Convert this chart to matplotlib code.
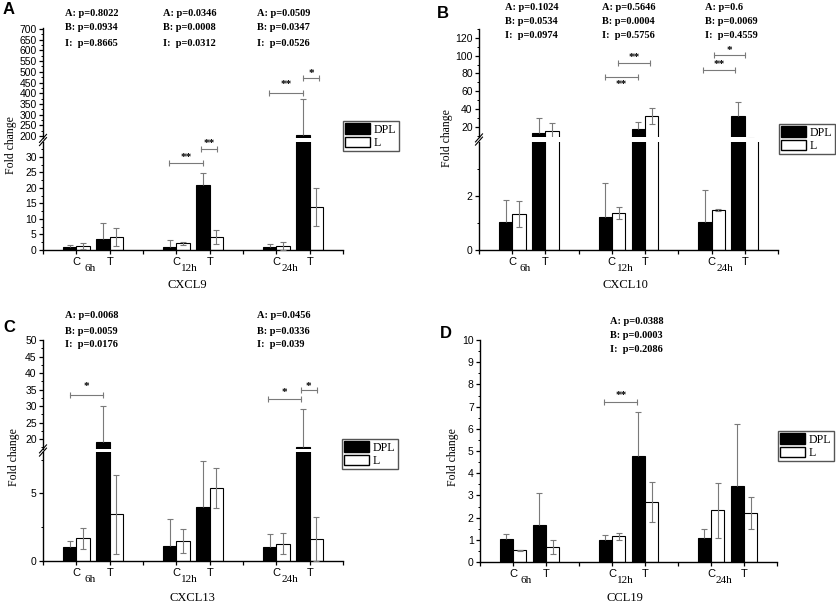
import numpy as np
import matplotlib
matplotlib.use("Agg")
import matplotlib.pyplot as plt
from matplotlib.lines import Line2D
from matplotlib.patches import Patch
from matplotlib.ticker import MultipleLocator

W, H = 837, 606
SERIF = "Liberation Serif"
SANS = "Liberation Sans"
GREY = "#7a7a7a"

# bar positions: C/T for 6h, 12h, 24h
pos = np.array([1, 2, 4, 5, 7, 8])
ct_labels = ["", "C", "T", "", "C", "T", "", "C", "T", ""]
times = ["6h", "12h", "24h"]
time_pos = [1.4, 4.4, 7.4]

# A - CXCL9
a_dpl = [1.07, 3.6, 1.07, 20.9, 1.07, 205]
a_dpl_err = [0.5, 5.0, 2.1, 4.0, 1.0, 167]
a_l = [1.3, 4.3, 2.1, 4.1, 1.4, 13.9]
a_l_err = [0.9, 2.9, 0.6, 2.3, 1.3, 6.2]
a_p = [["A: p=0.8022", "B: p=0.0934", "I:  p=0.8665"],
       ["A: p=0.0346", "B: p=0.0008", "I:  p=0.0312"],
       ["A: p=0.0509", "B: p=0.0347", "I:  p=0.0526"]]

# B - CXCL10
b_dpl = [1.05, 13.3, 1.21, 17.4, 1.05, 31.6]
b_dpl_err = [0.8, 16.7, 1.26, 7.8, 1.15, 16.5]
b_l = [1.32, 15.1, 1.36, 32.0, 1.48, 6.5]
b_l_err = [0.47, 8.9, 0.22, 8.6, 0.04, 1.0]
b_p = [["A: p=0.1024", "B: p=0.0534", "I:  p=0.0974"],
       ["A: p=0.5646", "B: p=0.0004", "I:  p=0.5756"],
       ["A: p=0.6", "B: p=0.0069", "I:  p=0.4559"]]

# C - CXCL13
c_dpl = [1.06, 19.2, 1.1, 3.97, 1.06, 17.7]
c_dpl_err = [0.44, 10.8, 1.98, 3.42, 0.91, 11.3]
c_l = [1.67, 3.45, 1.5, 5.37, 1.28, 1.6]
c_l_err = [0.8, 2.95, 0.89, 1.48, 0.76, 1.63]
c_p = [["A: p=0.0068", "B: p=0.0059", "I:  p=0.0176"],
       ["A: p=0.0456", "B: p=0.0336", "I:  p=0.039"]]

# D - CCL19
d_dpl = [1.02, 1.68, 0.98, 4.77, 1.08, 3.43]
d_dpl_err = [0.22, 1.45, 0.22, 2.0, 0.41, 2.78]
d_l = [0.53, 0.68, 1.16, 2.71, 2.33, 2.21]
d_l_err = [0.03, 0.3, 0.16, 0.9, 1.25, 0.72]
d_p = [["A: p=0.0388", "B: p=0.0003", "I:  p=0.2086"]]

# significance brackets: x0, x1, y, text, text y
a_br_lo = [(3.77, 4.79, 28.1, "**", 29.8), (4.75, 5.23, 32.7, "**", 34.3)]
a_br_hi = [(6.78, 7.81, 403, "**", 440), (7.81, 8.29, 469, "*", 492)]
b_br_hi = [(3.79, 4.79, 76.2, "**", 67), (4.19, 5.15, 91.2, "**", 98),
           (6.75, 7.71, 83.7, "**", 90.4), (7.06, 8.01, 100.5, "*", 106)]
c_br_hi = [(0.82, 1.81, 33.3, "*", 36.0), (6.75, 7.73, 32.0, "*", 34.0),
           (7.73, 8.21, 35.0, "*", 35.8)]
d_br = [(3.77, 4.77, 7.22, "**", 7.5)]

fig = plt.figure(figsize=(W / 100, H / 100), dpi=100)


def fx(px):
    return px / W


def fy(py):
    return 1 - py / H


def add_ax(x0, x1, top, bot):
    return fig.add_axes([x0 / W, 1 - bot / H, (x1 - x0) / W, (bot - top) / H])


def style_y(ax, ylim, major, minor):
    ax.set_xlim(0, 9)
    ax.set_ylim(*ylim)
    ax.yaxis.set_major_locator(MultipleLocator(major))
    ax.yaxis.set_minor_locator(MultipleLocator(minor))
    ax.tick_params(axis="y", which="major", direction="out", length=3, width=0.9,
                   labelsize=7.5, pad=1.5)
    ax.tick_params(axis="y", which="minor", direction="out", length=1.6, width=0.7)
    for lab in ax.get_yticklabels():
        lab.set_family(SANS)
    for s in ["top", "right"]:
        ax.spines[s].set_visible(False)
    for s in ["left", "bottom"]:
        ax.spines[s].set_linewidth(1.0)


def draw_bars(ax, dpl, dpl_err, l, l_err):
    dpl = np.array(dpl)
    l = np.array(l)
    ax.bar(pos - 0.2, dpl, 0.4, color="black", edgecolor="black", lw=0.8, zorder=2)
    ax.bar(pos + 0.2, l, 0.4, color="white", edgecolor="black", lw=0.8, zorder=2)
    # DPL: upper error only, L: both directions
    ax.vlines(pos - 0.2, dpl, dpl + np.array(dpl_err), colors=GREY, lw=0.8, zorder=3)
    ax.plot(pos - 0.2, dpl + np.array(dpl_err), ls="none", marker="_", ms=5,
            mew=0.8, color=GREY, zorder=3)
    lo = l - np.array(l_err)
    hi = l + np.array(l_err)
    ax.vlines(pos + 0.2, lo, hi, colors=GREY, lw=0.8, zorder=3)
    ax.plot(np.r_[pos + 0.2, pos + 0.2], np.r_[lo, hi], ls="none", marker="_", ms=5,
            mew=0.8, color=GREY, zorder=3)


def brackets(ax, items):
    for x0, x1, y, t, ty in items:
        ax.plot([x0, x1], [y, y], color=GREY, lw=0.8, marker="|", ms=5, mew=0.8,
                zorder=4)
        ax.text((x0 + x1) / 2, ty, t, ha="center", va="center", fontsize=8,
                fontweight="bold", family=SERIF)


def xaxis(ax):
    ax.set_xticks(range(10))
    ax.set_xticklabels(ct_labels, family=SANS, fontsize=8)
    ax.tick_params(axis="x", direction="out", length=3, width=0.9, pad=2)


def texts(x0, x1, ybot, letter, lpos, ylab, yl_pos, xlab, xl_pos, plines, px, py):
    for t, p in zip(times, time_pos):
        fig.text(fx(x0 + p * (x1 - x0) / 9), fy(ybot + 18.5), t, family=SERIF,
                 fontsize=8, ha="center", va="center")
    fig.text(fx(lpos[0]), fy(lpos[1]), letter, family=SANS, fontweight="bold",
             fontsize=12, va="center")
    fig.text(fx(yl_pos[0]), fy(yl_pos[1]), ylab, family=SERIF, fontsize=8.5,
             rotation=90, ha="center", va="center")
    fig.text(fx(xl_pos[0]), fy(xl_pos[1]), xlab, family=SERIF, fontsize=9,
             ha="center", va="center")
    for block, x in zip(plines, px):
        for line, y in zip(block, py):
            fig.text(fx(x), fy(y), line, family=SERIF, fontweight="bold",
                     fontsize=7.5, va="center")


def legend(x, y):
    handles = [Patch(facecolor="black", edgecolor="black"),
               Patch(facecolor="white", edgecolor="black")]
    leg = fig.legend(handles, ["DPL", "L"], loc="upper left",
                     bbox_to_anchor=(fx(x), fy(y)), prop={"family": SERIF, "size": 8.5},
                     handlelength=2.1, handleheight=0.95, labelspacing=0.12,
                     borderpad=0.2, handletextpad=0.3, borderaxespad=0,
                     fancybox=False, framealpha=1)
    leg.get_frame().set_edgecolor("#555555")
    leg.get_frame().set_linewidth(1.0)


def break_marks(x, ytop, ybot):
    yc = (ytop + ybot) / 2
    for d in (-1.6, 1.6):
        fig.add_artist(Line2D([fx(x - 3.5), fx(x + 3.5)],
                              [fy(yc + 4 + d), fy(yc - 4 + d)],
                              color="black", lw=0.8))


def broken_panel(x0, x1, hi, lo, dpl, dpl_err, l, l_err, br_hi, br_lo):
    ax_hi = add_ax(x0, x1, hi[0], hi[1])
    ax_lo = add_ax(x0, x1, lo[0], lo[1])
    for ax, cfg in ((ax_hi, hi), (ax_lo, lo)):
        style_y(ax, cfg[2], cfg[3], cfg[4])
        draw_bars(ax, dpl, dpl_err, l, l_err)
    ax_hi.spines["bottom"].set_visible(False)
    ax_hi.set_xticks([])
    xaxis(ax_lo)
    brackets(ax_hi, br_hi)
    brackets(ax_lo, br_lo)
    break_marks(x0, hi[1], lo[0])


# A
broken_panel(43, 343, (28, 138, (190.7, 705), 50, 25), (142, 250, (0, 34.8), 5, 2.5),
             a_dpl, a_dpl_err, a_l, a_l_err, a_br_hi, a_br_lo)
texts(43, 343, 250, "A", (3, 10), "Fold change", (11, 145), "CXCL9", (187, 285),
      a_p, [65, 163, 257], [14, 28, 43])
legend(343, 121)

# B
broken_panel(479, 778, (29, 137, (8.5, 130), 20, 10), (142, 250, (0, 3.98), 2, 1),
             b_dpl, b_dpl_err, b_l, b_l_err, b_br_hi, [])
texts(479, 778, 250, "B", (437, 13), "Fold change", (447, 138), "CXCL10", (625, 285),
      b_p, [505, 602, 705], [7, 21, 36])
legend(779, 124)

# C
broken_panel(43, 343, (340, 449, (17, 50), 5, 2.5), (452, 561, (0, 8.07), 5, 2.5),
             c_dpl, c_dpl_err, c_l, c_l_err, c_br_hi, [])
texts(43, 343, 561, "C", (3, 328), "Fold change", (14, 457), "CXCL13", (192, 598),
      c_p, [65, 257], [316, 331, 345])
legend(342, 439)

# D
ax_d = add_ax(480, 777, 340, 562)
style_y(ax_d, (0, 10), 1, 0.5)
draw_bars(ax_d, d_dpl, d_dpl_err, d_l, d_l_err)
xaxis(ax_d)
brackets(ax_d, d_br)
texts(480, 777, 562, "D", (440, 333), "Fold change", (453, 457), "CCL19", (625, 598),
      d_p, [610], [321, 335, 350])
legend(778, 431)

fig.savefig("out.png", dpi=100)
